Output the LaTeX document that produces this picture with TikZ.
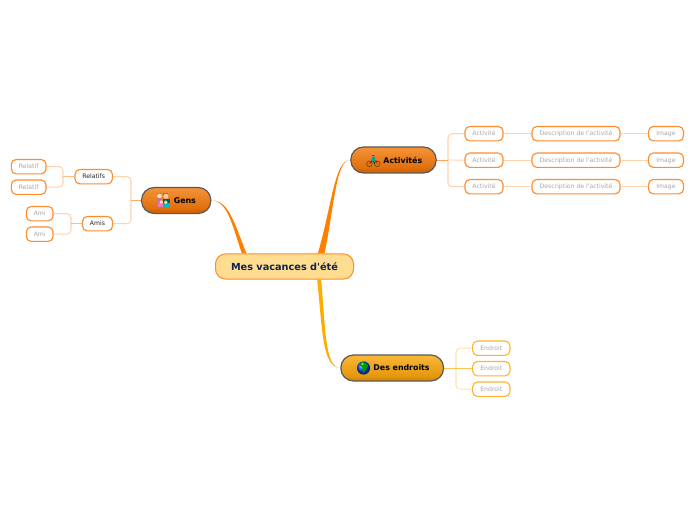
\documentclass[tikz,border=0pt]{standalone}
\usepackage{fontspec}
\usetikzlibrary{backgrounds}
\newfontfamily\djv{DejaVu Sans}
\AtBeginDocument{\djv}
\pgfdeclareverticalshading{btnA}{100bp}{rgb(0bp)=(0.86,0.40,0.02); rgb(25bp)=(0.86,0.40,0.02); rgb(32bp)=(0.84,0.39,0.0); rgb(33bp)=(0.87,0.43,0.05); rgb(75bp)=(0.96,0.58,0.22); rgb(100bp)=(0.96,0.58,0.22)}
\pgfdeclareverticalshading{btnB}{100bp}{rgb(0bp)=(0.87,0.56,0.02); rgb(25bp)=(0.87,0.56,0.02); rgb(32bp)=(0.85,0.55,0.0); rgb(33bp)=(0.89,0.59,0.05); rgb(75bp)=(0.98,0.72,0.22); rgb(100bp)=(0.98,0.72,0.22)}
\definecolor{lineO}{HTML}{FF8C2E}
\definecolor{lineY}{HTML}{FFB52E}
\definecolor{softO}{HTML}{FFD3AE}
\definecolor{softY}{HTML}{FFE3AE}
\definecolor{branchO}{HTML}{FF8000}
\definecolor{branchY}{HTML}{FFAB00}
\definecolor{rootfill}{HTML}{FFDD90}
\definecolor{rootink}{HTML}{0F2350}
\tikzset{
 x=0.75pt,y=-0.75pt,
 rootbox/.style={draw=#1,fill=rootfill,line width=0.75pt,rounded corners=7.5pt,inner sep=0pt,font=\bfseries\fontsize{7.3}{8}\selectfont,text=rootink},
 mainbtn/.style={draw=black!65,line width=0.9pt,rounded corners=9.5pt,shading=#1,inner sep=0pt,minimum height=19.5pt,font=\bfseries\fontsize{5.9}{7}\selectfont,text=black},
 leafbox/.style={draw=#1,fill=white,line width=0.85pt,rounded corners=3.6pt,inner sep=0pt,minimum height=10.8pt,text height=4.3pt,text depth=1pt,font=\fontsize{4.6}{6}\selectfont,text=black!34},
 subbox/.style={leafbox=#1,text=black!85},
 softline/.style={draw=#1,line width=0.8pt,rounded corners=3pt},
 stub/.style={draw=#1,line width=0.65pt},
}
\begin{document}
\begin{tikzpicture}
\useasboundingbox (0,0) rectangle (696,520);
% nodes
\node[rootbox=lineO,minimum width=103.5pt,minimum height=18.8pt] (root) at (284.5,266.5) {Mes vacances d'été};
\node[mainbtn=btnA,minimum width=52pt] (gens) at (176.2,200.5) {\hspace*{13pt}Gens};
\node[mainbtn=btnA,minimum width=64pt] (act) at (393.5,160) {\hspace*{14pt}Activités};
\node[mainbtn=btnB,minimum width=77pt] (end) at (392.2,368) {\hspace*{14pt}Des endroits};
\node[subbox=lineO,minimum width=28pt] (rel) at (93.7,176.7) {Relatifs};
\node[subbox=lineO,minimum width=22.5pt] (ami) at (97.5,223.7) {Amis};
\node[leafbox=lineO,minimum width=26pt] (r1) at (28.7,166.7) {Relatif};
\node[leafbox=lineO,minimum width=26pt] (r2) at (28.7,187.2) {Relatif};
\node[leafbox=lineO,minimum width=20pt] (a1) at (39.7,213.7) {Ami};
\node[leafbox=lineO,minimum width=20pt] (a2) at (39.7,234.2) {Ami};
\foreach \n/\y in {1/133.7,2/160.2,3/186.7}{
 \node[leafbox=lineO,minimum width=28.5pt] (a\n a) at (484,\y) {Activité};
 \node[leafbox=lineO,minimum width=66pt] (a\n d) at (576,\y) {Description de l'activité};
 \node[leafbox=lineO,minimum width=26.2pt] (a\n i) at (666,\y) {Image};
}
\node[leafbox=lineY,minimum width=28pt] (e1) at (491.3,348.2) {Endroit};
\node[leafbox=lineY,minimum width=28pt] (e2) at (491.3,368.7) {Endroit};
\node[leafbox=lineY,minimum width=28pt] (e3) at (491.3,389.2) {Endroit};
% named junctions
\coordinate (jg) at (131,200.5);
\coordinate (jr) at (63,176.7);
\coordinate (ja) at (71,223.7);
\coordinate (ja2) at (448,160);
\coordinate (je) at (456,368);
% main branches (tapered), behind the root
\begin{scope}[on background layer]
\fill[branchO] (gens.east) .. controls (227,200.5) and (232,224) .. ([xshift=-32pt]root.north) -- ([xshift=-28.5pt]root.north) .. controls (234.5,224) and (229,200) .. (gens.east);
\fill[branchO] (act.west) .. controls (334.5,160) and (332,205) .. ([xshift=25pt]root.north) -- ([xshift=30pt]root.north) .. controls (334.5,205) and (336,160) .. (act.west);
\fill[branchY] ([xshift=24.5pt]root.south) .. controls (322.5,330) and (322,367) .. (end.west) .. controls (325,367) and (325.5,330) .. ([xshift=27.5pt]root.south) -- cycle;
% brackets
\draw[softline=softO] (rel.east) -| (jg) |- (ami.east);
\draw[softline=softO] (r1.east) -| (jr) |- (r2.east);
\draw[softline=softO] (a1.east) -| (ja) |- (a2.east);
\draw[softline=softO] (a1a.west) -| (ja2) |- (a3a.west);
\draw[softline=softY] (e1.west) -| (je) |- (e3.west);
\draw[stub=lineO!75] (gens.west) -- (jg);
\draw[stub=softO!70!lineO] (rel.west) -- (jr);
\draw[stub=softO!70!lineO] (ami.west) -- (ja);
\draw[stub=lineO!80] (act.east) -- (ja2);
\draw[stub=lineY!80] (end.east) -- (e2.west |- end.east);
\foreach \n in {1,2,3}{
 \draw[stub=softO] (a\n a.east) -- (a\n d.west);
 \draw[stub=softO] (a\n d.east) -- (a\n i.west);
}
\draw[stub=softO] (ja2) -- (a2a.west);
\end{scope}
% icon: family
\begin{scope}[shift={(gens.center)},xshift=-9.8pt]
 \fill[orange!85!black] (-6.5,-7) rectangle (-2.5,1);
 \fill[brown!80!black] (0.2,-7.5) rectangle (5,-4.5);
 \fill[orange!30!white] (-3.7,-4.5) circle (2.4);
 \fill[orange!40!white] (2.7,-4.3) circle (2.6);
 \fill[violet!55] (-6.5,-2) rectangle (-1,3);
 \fill[teal!75!black] (0,-1.5) rectangle (6.5,3);
 \fill[magenta!55!white] (-5.5,3) rectangle (0,7);
 \fill[teal!55!cyan] (0,3) rectangle (5.5,7);
 \fill[orange!30!white] (-1.8,1.5) circle (1.9);
 \fill[orange!30!white] (2.6,1.8) circle (1.9);
\end{scope}
% icon: bike
\begin{scope}[shift={(act.center)},xshift=-15.2pt]
 \draw[black!55!brown,line width=0.4pt] (-3.8,3.8) circle (2.8) (4,3.8) circle (2.8);
 \draw[red!55!black,line width=0.35pt] (-3.8,3.8) -- (-0.5,0.5) -- (3,0.8) -- (4,3.8);
 \fill[teal!70!cyan] (-2.2,0.8) -- (-0.6,-3.5) -- (2,-3) -- (1.5,1) -- cycle;
 \fill[orange!45!white] (0,-4.8) circle (1.6);
 \fill[red!80!black] (-1.7,-5) arc (180:0:1.7) -- cycle;
 \draw[teal!40!black,line width=0.6pt] (0,1) -- (1.6,3.5);
\end{scope}
% icon: globe
\begin{scope}[shift={(end.center)},xshift=-21.5pt]
 \shade[ball color=blue!70!cyan] (0,0) circle (6.6);
 \fill[green!60!black] (-3,-5.5) .. controls (0,-6.5) and (4,-5) .. (4.5,-2) .. controls (3,0) and (2,3) .. (0,5) .. controls (-1,3) and (-2,1) .. (-1,-1) .. controls (-3,-1) and (-5,-2) .. (-3,-5.5) -- cycle;
 \fill[yellow!60!green] (-1,-4) circle (1.3);
\end{scope}
\end{tikzpicture}
\end{document}
